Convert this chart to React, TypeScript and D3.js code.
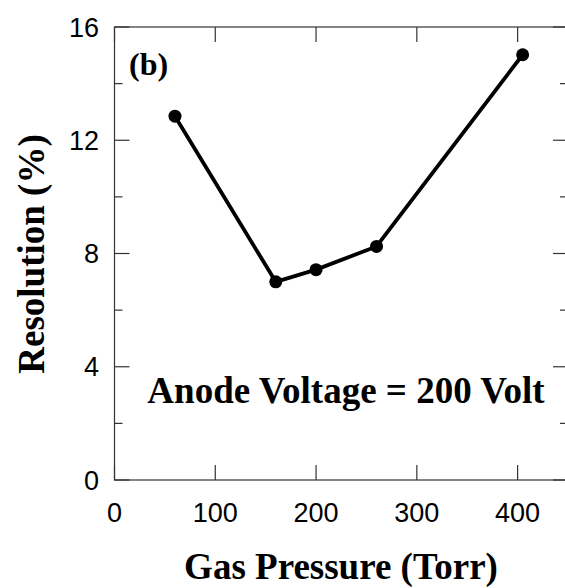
import React from "react";
import * as d3 from "d3";

const pressure = [60, 160, 200, 260, 405];
const resolution = [12.85, 7.0, 7.43, 8.25, 15.02];
const xTicks = [0, 100, 200, 300, 400];
const yTicks = [0, 4, 8, 12, 16];
const yMinor = [2, 6, 10, 14];

export default function App() {
  const W = 565, H = 588;
  const left = 114.5, right = 568, top = 27, bottom = 480;
  const x = d3.scaleLinear().domain([0, 450]).range([left, right]);
  const y = d3.scaleLinear().domain([0, 16]).range([bottom, top]);
  const line = d3.line<number>().x((_, i) => x(pressure[i])).y((d) => y(d));
  const axisColor = "#333";
  const serif = "'Liberation Serif', 'Times New Roman', serif";
  const sans = "'Liberation Sans', Arial, Helvetica, sans-serif";
  return (
    <svg width={W} height={H} style={{ position: "absolute", left: 0, top: 0 }}>
      <rect x={0} y={0} width={W} height={H} fill="#fff" />
      <rect x={left} y={top} width={right - left} height={bottom - top} fill="none" stroke={axisColor} strokeWidth={1.2} />
      {xTicks.map((t) => (
        <g key={"x" + t}>
          <line x1={x(t)} x2={x(t)} y1={bottom} y2={bottom - 15} stroke={axisColor} strokeWidth={1.2} />
          <line x1={x(t)} x2={x(t)} y1={top} y2={top + 15} stroke={axisColor} strokeWidth={1.2} />
          <text x={x(t)} y={522} textAnchor="middle" fontFamily={sans} fontSize={27} fill="#000">{t}</text>
        </g>
      ))}
      {yTicks.map((t) => (
        <g key={"y" + t}>
          <line x1={left} x2={left + 15} y1={y(t)} y2={y(t)} stroke={axisColor} strokeWidth={1.2} />
          <line x1={right} x2={right - 15} y1={y(t)} y2={y(t)} stroke={axisColor} strokeWidth={1.2} />
          <text x={99} y={y(t) + 9.5} textAnchor="end" fontFamily={sans} fontSize={27} fill="#000">{t}</text>
        </g>
      ))}
      {yMinor.map((t) => (
        <g key={"ym" + t}>
          <line x1={left} x2={left + 8} y1={y(t)} y2={y(t)} stroke={axisColor} strokeWidth={1.2} />
          <line x1={right} x2={right - 8} y1={y(t)} y2={y(t)} stroke={axisColor} strokeWidth={1.2} />
        </g>
      ))}
      <path d={line(resolution) || ""} fill="none" stroke="#000" strokeWidth={3.8} strokeLinejoin="round" />
      {resolution.map((v, i) => (
        <circle key={i} cx={x(pressure[i])} cy={y(v)} r={6.5} fill="#000" />
      ))}
      <text x={129} y={75} fontFamily={serif} fontWeight="bold" fontSize={32} fill="#000">(b)</text>
      <text x={346} y={403} textAnchor="middle" fontFamily={serif} fontWeight="bold" fontSize={37} fill="#000">Anode Voltage = 200 Volt</text>
      <text x={341} y={579} textAnchor="middle" fontFamily={serif} fontWeight="bold" fontSize={37} fill="#000">Gas Pressure (Torr)</text>
      <text transform={`translate(44, 254) rotate(-90)`} textAnchor="middle" fontFamily={serif} fontWeight="bold" fontSize={37} fill="#000">Resolution (%)</text>
    </svg>
  );
}
